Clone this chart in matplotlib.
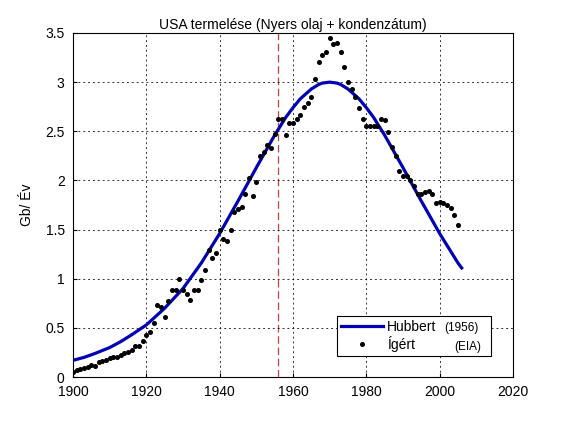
import numpy as np
import matplotlib
matplotlib.use("Agg")
import matplotlib.pyplot as plt

plt.rcParams['font.family'] = ['Liberation Sans', 'DejaVu Sans']

# Hubbert (1956) curve
hubbert_years = [1900, 1903, 1906, 1910, 1913, 1916, 1920, 1925, 1930, 1935, 1940, 1945,
                 1950, 1955, 1958, 1960, 1962, 1965, 1967, 1968, 1970, 1972,
                 1973, 1975, 1978, 1980, 1982, 1985, 1990, 1995, 2000, 2005, 2006]
hubbert_vals = [0.17, 0.20, 0.24, 0.30, 0.36, 0.43, 0.53, 0.70, 0.90, 1.16, 1.46, 1.79,
                2.13, 2.46, 2.64, 2.74, 2.83, 2.93, 2.976, 2.99, 3.00, 2.99,
                2.976, 2.93, 2.83, 2.74, 2.64, 2.46, 2.13, 1.79, 1.46, 1.16, 1.11]

# EIA production, one dot per year 1900..2005
eia_years = np.arange(1900, 2006)
eia_vals = [0.05, 0.07, 0.08, 0.09, 0.10, 0.12, 0.11, 0.15, 0.165, 0.17,
            0.19, 0.20, 0.205, 0.225, 0.245, 0.26, 0.28, 0.315, 0.32, 0.365,
            0.43, 0.46, 0.55, 0.73, 0.71, 0.61, 0.77, 0.89, 0.89, 1.00,
            0.89, 0.84, 0.78, 0.89, 0.89, 0.99, 1.09, 1.29, 1.21, 1.26,
            1.50, 1.40, 1.38, 1.50, 1.68, 1.71, 1.73, 1.86, 2.02, 1.84,
            1.98, 2.25, 2.29, 2.36, 2.33, 2.47, 2.62, 2.62, 2.46, 2.58,
            2.58, 2.62, 2.67, 2.75, 2.79, 2.85, 3.03, 3.20, 3.28, 3.31,
            3.45, 3.39, 3.40, 3.31, 3.15, 3.00, 2.93, 2.85, 2.74, 2.62,
            2.55, 2.55, 2.55, 2.55, 2.62, 2.61, 2.49, 2.34, 2.25, 2.10,
            2.05, 2.04, 2.00, 1.94, 1.86, 1.86, 1.88, 1.89, 1.86, 1.77,
            1.78, 1.77, 1.75, 1.72, 1.65, 1.55]

hubbert_year_mark = 1956

x_ticks = [1900, 1920, 1940, 1960, 1980, 2000, 2020]
y_ticks = [0, 0.5, 1, 1.5, 2, 2.5, 3, 3.5]
y_tick_labels = ['0', '0.5', '1', '1.5', '2', '2.5', '3', '3.5']

fig = plt.figure(figsize=(5.7, 4.28), dpi=100)
ax = fig.add_axes([0.128, 0.119, 0.772, 0.804])

ax.axvline(hubbert_year_mark, color='#d04040', linestyle=(0, (6, 3)), linewidth=0.9, zorder=1)
hub_line, = ax.plot(hubbert_years, hubbert_vals, color='#0000b4', linewidth=2.3, zorder=3)
eia_pts, = ax.plot(eia_years, eia_vals, linestyle='none', marker='o', markersize=2.6,
                   color='black', zorder=4)

ax.set_xlim(1900, 2020)
ax.set_ylim(0, 3.5)
ax.set_xticks(x_ticks)
ax.set_yticks(y_ticks)
ax.set_yticklabels(y_tick_labels)
ax.tick_params(direction='in', length=3, labelsize=10, colors='black')
ax.tick_params(axis='x', pad=6)
ax.tick_params(axis='y', pad=6)
ax.grid(True, color='black', linestyle=(0, (2, 3)), linewidth=0.7, alpha=0.8)
for s in ax.spines.values():
    s.set_linewidth(0.8)

ax.set_title('USA termelése (Nyers olaj + kondenzátum)', fontsize=10, pad=3)
ax.set_ylabel('Gb/ Év', fontsize=10, labelpad=8)

leg = ax.legend([hub_line, eia_pts], ['Hubbert', 'Ígért'], loc='lower left',
                bbox_to_anchor=(0.6, 0.061, 0.35, 0.125), mode='expand',
                fontsize=10, handlelength=3.0, handletextpad=0.3,
                borderpad=0.3, labelspacing=0.15, fancybox=False,
                edgecolor='black', framealpha=1, borderaxespad=0)
leg.get_frame().set_linewidth(0.8)
leg.set_zorder(5)
ax.text(0.843, 0.142, '(1956)', transform=ax.transAxes, fontsize=8.5,
        va='center', zorder=6)
ax.text(0.866, 0.088, '(EIA)', transform=ax.transAxes, fontsize=8.5,
        va='center', zorder=6)

fig.savefig('out.png', dpi=100)
